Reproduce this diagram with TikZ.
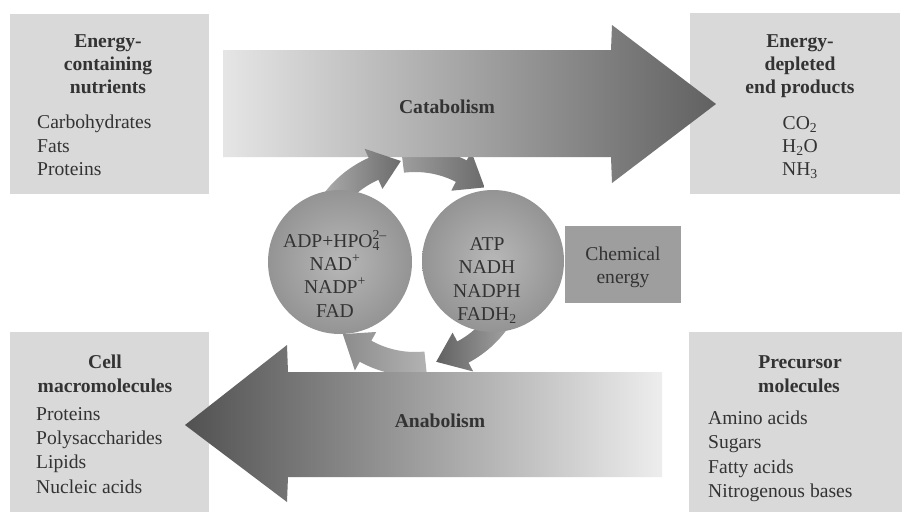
\documentclass[tikz,border=0pt]{standalone}
\usepackage{fontspec}
\setmainfont{Liberation Serif}
\definecolor{ink}{gray}{0.2}
\definecolor{panelgray}{gray}{0.85}
\definecolor{chemgray}{gray}{0.62}
\definecolor{ballin}{gray}{0.72}
\definecolor{ballout}{gray}{0.58}
\newcommand\supsub[2]{\rlap{\textsubscript{#2}}\textsuperscript{#1}}
\newcommand\ringarr[5]{%
  \shade[left color=#4, right color=#5, shift={(415,262)}]
    (#1:114) arc[start angle=#1, end angle=#2, radius=114]
    -- (#2:124) -- (#3:102) -- (#2:80) -- (#2:90)
    arc[start angle=#2, end angle=#1, radius=90] -- cycle;}
\tikzset{
  txt/.style={inner sep=0pt, anchor=base, text=ink, font=\fontsize{19.6}{23.5}\selectfont},
  hd/.style={txt, font=\fontsize{19.6}{23.5}\selectfont\bfseries},
  lft/.style={txt, anchor=base west},
  panel/.style={fill=panelgray, draw=none},
  ball/.style={circle, inner sep=0pt, draw=none, shading=radial, inner color=ballin, outer color=ballout},
  chembox/.style={rectangle, inner sep=0pt, fill=chemgray, minimum width=116pt, minimum height=77pt},
}
\begin{document}
\begin{tikzpicture}[x=1pt, y=-1pt]
\useasboundingbox (0,0) rectangle (902,512);
\fill[white] (0,0) rectangle (902,512);

% panels
\fill[panel] (10,14) rectangle (209,194);
\fill[panel] (690,13) rectangle (900,194);
\fill[panel] (10,332) rectangle (209,512);
\fill[panel] (689,332) rectangle (902,512);

% ring arrows whose tails go under the big arrows
\ringarr{-97}{-63}{-47}{black!38}{black!58}
\ringarr{84}{119}{135}{black!45}{black!30}

% catabolism arrow
\shade[left color=black!10, right color=black!62]
  (223,50) -- (611,50) -- (612,25) -- (716,104) -- (612,183) -- (611,157) -- (223,157) -- cycle;
% anabolism arrow
\shade[left color=black!68, right color=black!7]
  (662,372) -- (288,372) -- (287,345) -- (185,425) -- (287,502) -- (288,477) -- (662,477) -- cycle;

% ring arrows starting at the circles
\ringarr{-152}{-114}{-98}{black!30}{black!58}
\ringarr{30}{62}{78}{black!62}{black!35}

% circles
\node[ball, minimum size=144pt] (lc) at (340,262) {};
\node[ball, minimum size=142pt] (rc) at (493,261) {};
\node[chembox] (chem) at (623,264.5) {};

% big arrow labels
\node[hd] (cat) at (447,113) {Catabolism};
\node[hd] (ana) at (440,427) {Anabolism};

% top-left panel
\node[hd] (tl1) at (108,47) {Energy-};
\node[hd] (tl2) at (108,70) {containing};
\node[hd] (tl3) at (108,93) {nutrients};
\node[lft] (tl4) at (37,128) {Carbohydrates};
\node[lft] (tl5) at (37,152) {Fats};
\node[lft] (tl6) at (37,175) {Proteins};

% top-right panel
\node[hd] (tr1) at (800,47) {Energy-};
\node[hd] (tr2) at (800,70) {depleted};
\node[hd] (tr3) at (800,93) {end products};
\node[txt] (tr4) at (800,129) {CO\textsubscript{2}};
\node[txt] (tr5) at (800,152) {H\textsubscript{2}O};
\node[txt] (tr6) at (800,175) {NH\textsubscript{3}};

% bottom-left panel
\node[hd] (bl1) at (105,368) {Cell};
\node[hd] (bl2) at (105,392) {macromolecules};
\node[lft] (bl3) at (36,420) {Proteins};
\node[lft] (bl4) at (36,444) {Polysaccharides};
\node[lft] (bl5) at (36,468) {Lipids};
\node[lft] (bl6) at (36,493) {Nucleic acids};

% bottom-right panel
\node[hd] (br1) at (800,368) {Precursor};
\node[hd] (br2) at (799,392) {molecules};
\node[lft] (br3) at (708,424) {Amino acids};
\node[lft] (br4) at (708,448) {Sugars};
\node[lft] (br5) at (708,473) {Fatty acids};
\node[lft] (br6) at (708,497) {Nitrogenous bases};

% left circle text
\node[txt] (l1) at (335,247) {ADP+HPO\supsub{2–}{4}};
\node[txt] (l2) at (335,270) {NAD\textsuperscript{+}};
\node[txt] (l3) at (335,293) {NADP\textsuperscript{+}};
\node[txt] (l4) at (335,317) {FAD};

% right circle text
\node[txt] (r1) at (487,250) {ATP};
\node[txt] (r2) at (487,273) {NADH};
\node[txt] (r3) at (487,297) {NADPH};
\node[txt] (r4) at (487,320) {FADH\textsubscript{2}};

% chemical energy
\node[txt] (c1) at (623,260) {Chemical};
\node[txt] (c2) at (623,283) {energy};
\end{tikzpicture}
\end{document}
